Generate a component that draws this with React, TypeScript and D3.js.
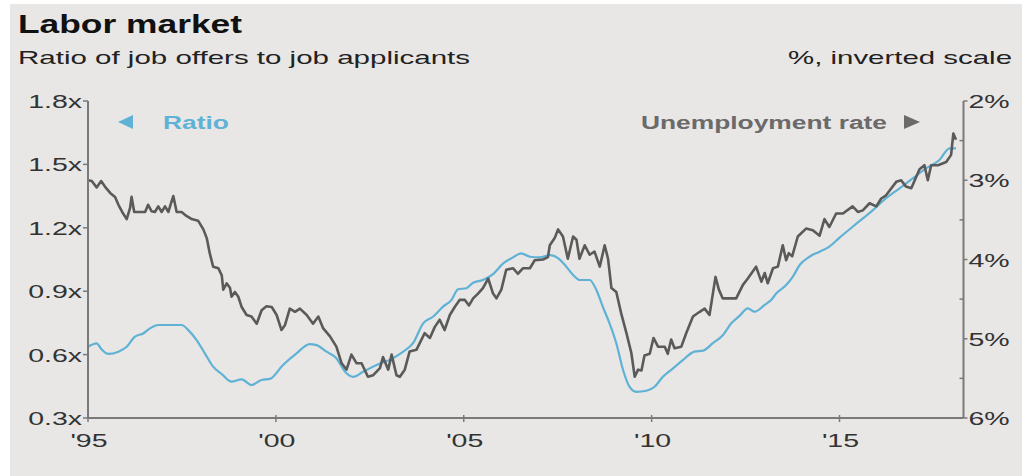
import React from "react";
import * as d3 from "d3";

const W = 1022;
const H = 476;

// X axis ticks
const xTickYears = [1995, 2000, 2005, 2010, 2015];
const xTickLabels = ["'95", "'00", "'05", "'10", "'15"];
// Left axis (ratio)
const leftTicks = [0.3, 0.6, 0.9, 1.2, 1.5, 1.8];
const leftTickLabels = ["0.3x", "0.6x", "0.9x", "1.2x", "1.5x", "1.8x"];
// Right axis (unemployment, inverted)
const rightTicks = [2, 3, 4, 5, 6];
const rightTickLabels = ["2%", "3%", "4%", "5%", "6%"];
const rightMinorTicks = [2.5, 3.5, 4.5, 5.5];

// Unemployment rate (%)
const unempDates = [
  1995.0, 1995.1, 1995.23, 1995.35, 1995.45, 1995.59, 1995.72, 1995.81, 1995.91, 1996.03,
  1996.12, 1996.16, 1996.23, 1996.34, 1996.52, 1996.6, 1996.69, 1996.78, 1996.87, 1996.96,
  1997.05, 1997.14, 1997.21, 1997.27, 1997.36, 1997.49, 1997.62, 1997.76, 1997.93, 1998.07,
  1998.16, 1998.24, 1998.33, 1998.47, 1998.56, 1998.6, 1998.69, 1998.78, 1998.82, 1998.91,
  1999.0, 1999.09, 1999.22, 1999.35, 1999.49, 1999.62, 1999.75, 1999.89, 2000.02, 2000.15,
  2000.24, 2000.37, 2000.51, 2000.64, 2000.82, 2000.99, 2001.13, 2001.26, 2001.44, 2001.61,
  2001.75, 2001.88, 2002.01, 2002.15, 2002.28, 2002.45, 2002.59, 2002.77, 2002.85, 2002.99,
  2003.08, 2003.21, 2003.3, 2003.43, 2003.56, 2003.74, 2003.96, 2004.1, 2004.23, 2004.36,
  2004.49, 2004.63, 2004.76, 2004.89, 2005.03, 2005.14, 2005.25, 2005.38, 2005.51, 2005.65,
  2005.78, 2005.87, 2006.0, 2006.13, 2006.31, 2006.44, 2006.58, 2006.76, 2006.89, 2007.11,
  2007.24, 2007.29, 2007.42, 2007.51, 2007.64, 2007.77, 2007.91, 2008.0, 2008.08, 2008.22,
  2008.35, 2008.48, 2008.62, 2008.75, 2008.84, 2008.93, 2009.06, 2009.19, 2009.33, 2009.46,
  2009.55, 2009.64, 2009.73, 2009.81, 2009.95, 2010.05, 2010.17, 2010.35, 2010.43, 2010.52,
  2010.61, 2010.79, 2010.92, 2011.1, 2011.28, 2011.41, 2011.54, 2011.63, 2011.7, 2011.79,
  2011.89, 2012.25, 2012.43, 2012.56, 2012.78, 2012.92, 2013.01, 2013.09, 2013.23, 2013.36,
  2013.49, 2013.58, 2013.65, 2013.74, 2013.89, 2014.11, 2014.29, 2014.47, 2014.6, 2014.73,
  2014.91, 2015.09, 2015.35, 2015.49, 2015.62, 2015.8, 2015.98, 2016.11, 2016.24, 2016.38,
  2016.51, 2016.64, 2016.77, 2016.91, 2017.02, 2017.13, 2017.26, 2017.35, 2017.44, 2017.62,
  2017.84, 2017.97, 2018.03, 2018.1,
];
const unempValues = [
  3.0, 3.01, 3.09, 3.01, 3.08, 3.16, 3.21, 3.31, 3.4, 3.49,
  3.35, 3.21, 3.4, 3.4, 3.4, 3.31, 3.39, 3.4, 3.33, 3.4,
  3.33, 3.4, 3.29, 3.2, 3.4, 3.4, 3.45, 3.49, 3.51, 3.62,
  3.73, 3.92, 4.09, 4.11, 4.2, 4.38, 4.3, 4.36, 4.47, 4.41,
  4.47, 4.6, 4.7, 4.72, 4.81, 4.64, 4.59, 4.6, 4.7, 4.89,
  4.83, 4.62, 4.66, 4.62, 4.7, 4.81, 4.72, 4.87, 4.97, 5.1,
  5.31, 5.39, 5.2, 5.31, 5.31, 5.48, 5.46, 5.37, 5.23, 5.39,
  5.2, 5.46, 5.48, 5.39, 5.16, 5.14, 4.93, 4.99, 4.85, 4.76,
  4.89, 4.7, 4.6, 4.51, 4.51, 4.58, 4.49, 4.43, 4.36, 4.24,
  4.43, 4.49, 4.38, 4.13, 4.11, 4.18, 4.11, 4.11, 4.01, 4.0,
  3.97, 3.82, 3.73, 3.62, 3.71, 3.99, 3.71, 3.75, 3.99, 3.82,
  3.94, 3.9, 4.09, 3.82, 3.99, 4.36, 4.41, 4.68, 4.93, 5.18,
  5.48, 5.39, 5.4, 5.21, 5.19, 4.99, 5.1, 5.1, 5.19, 5.01,
  5.12, 5.1, 4.93, 4.72, 4.66, 4.62, 4.7, 4.43, 4.22, 4.38,
  4.49, 4.49, 4.32, 4.24, 4.09, 4.28, 4.17, 4.3, 4.11, 4.09,
  3.82, 4.01, 3.92, 3.96, 3.71, 3.61, 3.63, 3.7, 3.49, 3.59,
  3.42, 3.42, 3.33, 3.4, 3.38, 3.29, 3.33, 3.23, 3.19, 3.1,
  3.02, 3.0, 3.08, 3.1, 2.98, 2.86, 2.81, 3.0, 2.81, 2.81,
  2.77, 2.68, 2.41, 2.49,
];

// Ratio of job offers to applicants
const ratioDates = [
  1995.0, 1995.23, 1995.36, 1995.54, 1995.81, 1996.03, 1996.25, 1996.47, 1996.65, 1996.87,
  1997.49, 1997.67, 1997.89, 1998.11, 1998.33, 1998.56, 1998.82, 1999.09, 1999.35, 1999.62,
  1999.84, 2000.19, 2000.55, 2000.9, 2001.08, 2001.35, 2001.61, 2001.84, 2002.06, 2002.32,
  2002.68, 2003.03, 2003.39, 2003.65, 2003.92, 2004.18, 2004.45, 2004.67, 2004.85, 2005.07,
  2005.25, 2005.51, 2005.78, 2006.05, 2006.31, 2006.53, 2006.76, 2007.02, 2007.29, 2007.55,
  2007.73, 2007.91, 2008.09, 2008.35, 2008.53, 2008.7, 2008.88, 2009.06, 2009.24, 2009.41,
  2009.59, 2009.86, 2010.08, 2010.3, 2010.57, 2010.83, 2011.14, 2011.37, 2011.63, 2011.9,
  2012.12, 2012.34, 2012.56, 2012.74, 2013.01, 2013.18, 2013.32, 2013.58, 2013.76, 2013.94,
  2014.2, 2014.47, 2014.73, 2014.98, 2015.35, 2015.89, 2016.24, 2016.6, 2016.95, 2017.31,
  2017.66, 2017.93, 2018.1,
];
const ratioValues = [
  0.637, 0.653, 0.625, 0.603, 0.614, 0.637, 0.685, 0.7, 0.724, 0.74,
  0.74, 0.716, 0.669, 0.606, 0.543, 0.508, 0.472, 0.483, 0.456, 0.48,
  0.485, 0.551, 0.606, 0.65, 0.645, 0.614, 0.583, 0.519, 0.495, 0.519,
  0.551, 0.575, 0.614, 0.654, 0.748, 0.779, 0.827, 0.858, 0.909, 0.914,
  0.94, 0.953, 0.981, 1.032, 1.06, 1.079, 1.063, 1.06, 1.071, 1.051,
  1.016, 0.977, 0.953, 0.953, 0.906, 0.827, 0.748, 0.654, 0.527, 0.448,
  0.424, 0.429, 0.448, 0.495, 0.535, 0.574, 0.614, 0.619, 0.654, 0.693,
  0.748, 0.783, 0.819, 0.803, 0.835, 0.858, 0.89, 0.929, 0.969, 1.024,
  1.063, 1.087, 1.111, 1.15, 1.205, 1.284, 1.34, 1.387, 1.434, 1.482,
  1.521, 1.576, 1.576,
];

const BG = "#e8e7e5";
const BLUE = "#5fb2d5";
const DARK = "#5a5a5a";
const AXIS = "#7a7a7a";
const FONT = "'Liberation Sans', Arial, Helvetica, sans-serif";
const SX = 1.5;

function SText(props: {
  x: number;
  y: number;
  anchor?: "start" | "middle" | "end";
  size: number;
  weight?: string;
  fill: string;
  children: React.ReactNode;
}) {
  const { x, y, anchor = "start", size, weight = "normal", fill, children } = props;
  return (
    <text
      transform={`translate(${x},${y}) scale(${SX},1)`}
      textAnchor={anchor}
      fontSize={size}
      fontWeight={weight}
      fill={fill}
      fontFamily={FONT}
    >
      {children}
    </text>
  );
}

export default function App() {
  const x = d3.scaleLinear().domain([1995, 2018.3]).range([88, 963.5]);
  const yL = d3.scaleLinear().domain([0.3, 1.8]).range([418, 101]);
  const yR = d3.scaleLinear().domain([6, 2]).range([418, 101]);

  const unemp = unempDates.map((d, i) => [d, unempValues[i]] as [number, number]);
  const ratio = ratioDates.map((d, i) => [d, ratioValues[i]] as [number, number]);

  const unempLine = d3
    .line<[number, number]>()
    .x((d) => x(d[0]))
    .y((d) => yR(d[1]));
  const ratioLine = d3
    .line<[number, number]>()
    .x((d) => x(d[0]))
    .y((d) => yL(d[1]))
    .curve(d3.curveMonotoneX);

  const x0 = x.range()[0];
  const x1 = x.range()[1];
  const yTop = yL.range()[1];
  const yBot = yL.range()[0];

  return (
    <svg
      width={W}
      height={H}
      style={{ position: "absolute", left: 0, top: 0, background: "#ffffff" }}
    >
      <rect x={10} y={4} width={W - 10} height={H - 4} fill={BG} />

      {/* Titles */}
      <text
        x={18}
        y={33}
        fontSize={25}
        fontWeight="bold"
        fill="#111"
        fontFamily={FONT}
        textLength={224}
        lengthAdjust="spacingAndGlyphs"
      >
        Labor market
      </text>
      <text
        x={18}
        y={64}
        fontSize={19}
        fill="#222"
        fontFamily={FONT}
        textLength={452}
        lengthAdjust="spacingAndGlyphs"
      >
        Ratio of job offers to job applicants
      </text>
      <text
        x={1012}
        y={64}
        fontSize={19}
        fill="#222"
        fontFamily={FONT}
        textAnchor="end"
        textLength={224}
        lengthAdjust="spacingAndGlyphs"
      >
        %, inverted scale
      </text>

      {/* Lines */}
      <path d={ratioLine(ratio) || ""} fill="none" stroke={BLUE} strokeWidth={2.2} strokeLinejoin="round" />
      <path d={unempLine(unemp) || ""} fill="none" stroke={DARK} strokeWidth={2.6} strokeLinejoin="round" />

      {/* Axes */}
      <line x1={x0} x2={x0} y1={yTop} y2={yBot} stroke={AXIS} strokeWidth={2} />
      <line x1={x1} x2={x1} y1={yTop} y2={yBot} stroke={AXIS} strokeWidth={2} />
      <line x1={x0} x2={x1} y1={yBot} y2={yBot} stroke={AXIS} strokeWidth={2} />

      {leftTicks.map((t, i) => (
        <g key={"l" + t}>
          <line x1={x0 - 5} x2={x0} y1={yL(t)} y2={yL(t)} stroke={AXIS} strokeWidth={1.5} />
          <SText x={x0 - 6} y={yL(t) + 7} anchor="end" size={19} fill="#333">
            {leftTickLabels[i]}
          </SText>
        </g>
      ))}

      {rightTicks.map((t, i) => (
        <g key={"r" + t}>
          <line x1={x1} x2={x1 + 4} y1={yR(t)} y2={yR(t)} stroke={AXIS} strokeWidth={1.5} />
          <SText x={x1 + 5} y={yR(t) + 7} anchor="start" size={19} fill="#333">
            {rightTickLabels[i]}
          </SText>
        </g>
      ))}
      {rightMinorTicks.map((t) => (
        <line key={"rm" + t} x1={x1 - 4} x2={x1} y1={yR(t)} y2={yR(t)} stroke={AXIS} strokeWidth={1.5} />
      ))}

      {xTickYears.map((t, i) => (
        <g key={"x" + t}>
          <line x1={x(t)} x2={x(t)} y1={yBot - 3} y2={yBot + 4} stroke={AXIS} strokeWidth={1.5} />
          <SText x={x(t) + 1} y={447} anchor="middle" size={19} fill="#333">
            {xTickLabels[i]}
          </SText>
        </g>
      ))}

      {/* Legend labels */}
      <path d="M118,122 L133,115 L133,129 Z" fill={BLUE} />
      <text
        x={163}
        y={129}
        fontSize={18}
        fontWeight="bold"
        fill={BLUE}
        fontFamily={FONT}
        textLength={66}
        lengthAdjust="spacingAndGlyphs"
      >
        Ratio
      </text>
      <text
        x={641}
        y={129}
        fontSize={18}
        fontWeight="bold"
        fill="#6a6a6a"
        fontFamily={FONT}
        textLength={246}
        lengthAdjust="spacingAndGlyphs"
      >
        Unemployment rate
      </text>
      <path d="M904,115 L920,122 L904,129 Z" fill="#6a6a6a" />
    </svg>
  );
}
